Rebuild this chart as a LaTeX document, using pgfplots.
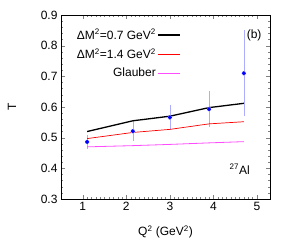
\documentclass[border=0pt]{standalone}
\usepackage{fontspec}
\setmainfont{Liberation Sans}
\usepackage{pgfplots}
\pgfplotsset{compat=1.18}
\definecolor{errblue}{rgb}{0.68,0.68,1.0}
\definecolor{glaub}{rgb}{1.0,0.3,1.0}
\begin{document}
\begin{tikzpicture}
\begin{axis}[
  name=ax,
  width=209pt, height=184pt, scale only axis,
  xmin=0.5, xmax=5.3, ymin=0.3, ymax=0.9,
  xtick={1,2,3,4,5}, ytick={0.3,0.4,0.5,0.6,0.7,0.8,0.9},
  minor x tick num=9, minor y tick num=4,
  tick align=inside, tick pos=both,
  major tick length=4pt, minor tick length=2pt,
  yticklabel style={/pgf/number format/.cd,fixed,fixed zerofill,precision=1},
  /pgf/number format/assume math mode=true,
  tick label style={font=\fontsize{12}{14}\selectfont},
  label style={font=\fontsize{12}{14}\selectfont},
  xlabel={Q\textsuperscript{2} (GeV\textsuperscript{2})}, ylabel={T},
  xlabel style={at={(axis description cs:0.5,-0.179)}, anchor=center},
  ylabel style={at={(axis description cs:-0.235,0.5)}, anchor=center},
  legend style={draw=none, fill=none, at={(0.59,0.945)}, anchor=north east,
    font=\fontsize{12}{14}\selectfont, row sep=4pt},
  legend cell align=right, legend plot pos=right,
  legend image code/.code={\draw[#1] (0pt,0pt) -- (22pt,0pt);},
]
\addplot[errblue, only marks, mark=none, forget plot,
  error bars/.cd, y dir=both, y explicit,
  error bar style={errblue, line width=0.6pt}, error mark=none]
  coordinates {
  (1.1,0.486) +- (0,0.024)
  (2.15,0.521) +- (0,0.033)
  (3.0,0.566) +- (0,0.042)
  (3.9,0.593) +- (0,0.058)
  (4.7,0.710) +- (0,0.140)
  };
\addplot[black, line width=1.3pt] coordinates {(1.1,0.520) (2.15,0.555) (3.0,0.570) (3.9,0.598) (4.7,0.612)};
\addlegendentry{ΔM\textsuperscript{2}=0.7 GeV\textsuperscript{2}}
\addplot[red, line width=0.7pt] coordinates {(1.1,0.497) (2.15,0.517) (3.0,0.527) (3.9,0.545) (4.7,0.552)};
\addlegendentry{ΔM\textsuperscript{2}=1.4 GeV\textsuperscript{2}}
\addplot[glaub, line width=0.8pt] coordinates {(1.1,0.470) (2.15,0.474) (3.0,0.478) (3.9,0.483) (4.7,0.487)};
\addlegendentry{Glauber}
\addplot[blue, only marks, mark=*, mark size=1.8pt, mark options={solid, fill=blue}, forget plot]
  coordinates {(1.1,0.486) (2.15,0.521) (3.0,0.566) (3.9,0.593) (4.7,0.710)};
\node[anchor=north east, font=\fontsize{12}{14}\selectfont] at (rel axis cs:0.976,0.94) {(b)};
\node[anchor=south east, font=\fontsize{12}{14}\selectfont] at (rel axis cs:0.92,0.115) {\textsuperscript{27}Al};
\end{axis}
\useasboundingbox ([shift={(-61pt,-53pt)}]ax.south west) rectangle ([shift={(23pt,15pt)}]ax.north east);
\end{tikzpicture}
\end{document}
